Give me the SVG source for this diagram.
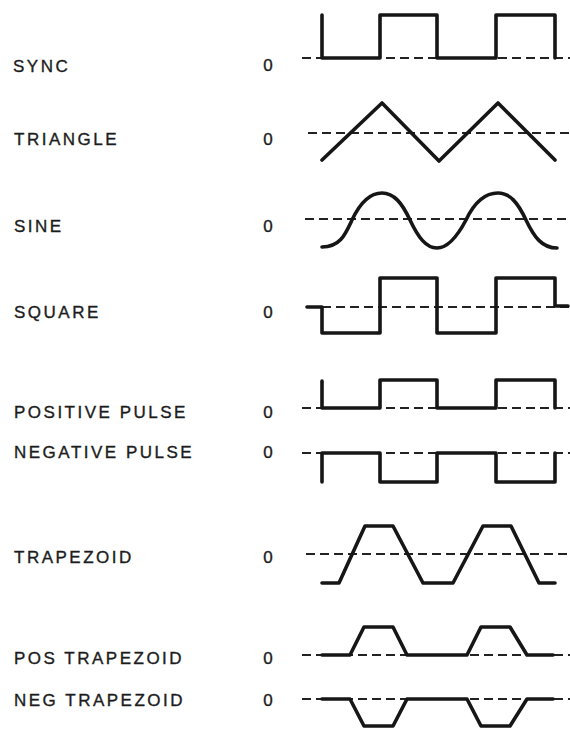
<svg xmlns="http://www.w3.org/2000/svg" width="570" height="729" viewBox="0 0 570 729">
<style>
.lbl{font-family:"Liberation Sans",Arial,sans-serif;font-size:17px;fill:#1c1c1c;stroke:#1c1c1c;stroke-width:0.35px;letter-spacing:2.5px}
.zero{font-family:"Liberation Sans",Arial,sans-serif;font-size:17px;fill:#1c1c1c;stroke:#1c1c1c;stroke-width:0.35px;text-anchor:middle}
.dash{stroke:#222;stroke-width:2;stroke-dasharray:9 5;fill:none}
.wave{stroke:#161616;stroke-width:3.6;fill:none;stroke-linejoin:round;stroke-linecap:round}
</style>
<rect width="570" height="729" fill="#fff"/>
<g id="sync">
<text class="lbl" x="13" y="72">SYNC</text><text class="zero" x="268" y="71">0</text>
<path class="dash" d="M302 58H570"/>
<path class="wave" d="M322 15V58H380V15H437V58H496V15H555V58"/>
</g>
<g id="triangle">
<text class="lbl" x="14" y="145">TRIANGLE</text><text class="zero" x="268" y="145">0</text>
<path class="dash" d="M308 133H570"/>
<path class="wave" d="M322 160L382 103L439 161L498 103L555 160"/>
</g>
<g id="sine">
<text class="lbl" x="14" y="232">SINE</text><text class="zero" x="268" y="232">0</text>
<path class="dash" d="M305 219H570"/>
<path class="wave" d="M322 247C340 247 345 235 352 220C360 203 370 193 382 193C394 193 402 203 410 220C418 237 426 248 437 248C448 248 457 237 466 220C474 203 484 193 498 193C510 193 518 203 526 220C534 237 542 248 557 248"/>
</g>
<g id="square">
<text class="lbl" x="14" y="318">SQUARE</text><text class="zero" x="268" y="318">0</text>
<path class="dash" d="M322 307H570"/>
<path class="wave" d="M307 307H322V333H380V278H437V333H496V278H555V306H568"/>
</g>
<g id="positive-pulse">
<text class="lbl" x="14" y="418">POSITIVE PULSE</text><text class="zero" x="268" y="418">0</text>
<path class="dash" d="M302 408H570"/>
<path class="wave" d="M322 381V408H380V380H437V408H496V380H555V408"/>
</g>
<g id="negative-pulse">
<text class="lbl" x="14" y="458">NEGATIVE PULSE</text><text class="zero" x="268" y="458">0</text>
<path class="dash" d="M302 453H570"/>
<path class="wave" d="M322 482V453H380V482H437V453H496V482H555V453"/>
</g>
<g id="trapezoid">
<text class="lbl" x="14" y="563">TRAPEZOID</text><text class="zero" x="268" y="563">0</text>
<path class="dash" d="M306 554H570"/>
<path class="wave" d="M322 583H339L365 526H393L423 583H453L483 526H511L539 583H555"/>
</g>
<g id="pos-trapezoid">
<text class="lbl" x="14" y="664">POS TRAPEZOID</text><text class="zero" x="268" y="664">0</text>
<path class="dash" d="M302 655H570"/>
<path class="wave" d="M322 655H350L364 627H393L407 655H467L481 627H510L527 655H553"/>
</g>
<g id="neg-trapezoid">
<text class="lbl" x="14" y="706">NEG TRAPEZOID</text><text class="zero" x="268" y="706">0</text>
<path class="dash" d="M302 699H570"/>
<path class="wave" d="M322 699H350L364 726H393L407 699H467L481 726H510L527 699H553"/>
</g>
</svg>
